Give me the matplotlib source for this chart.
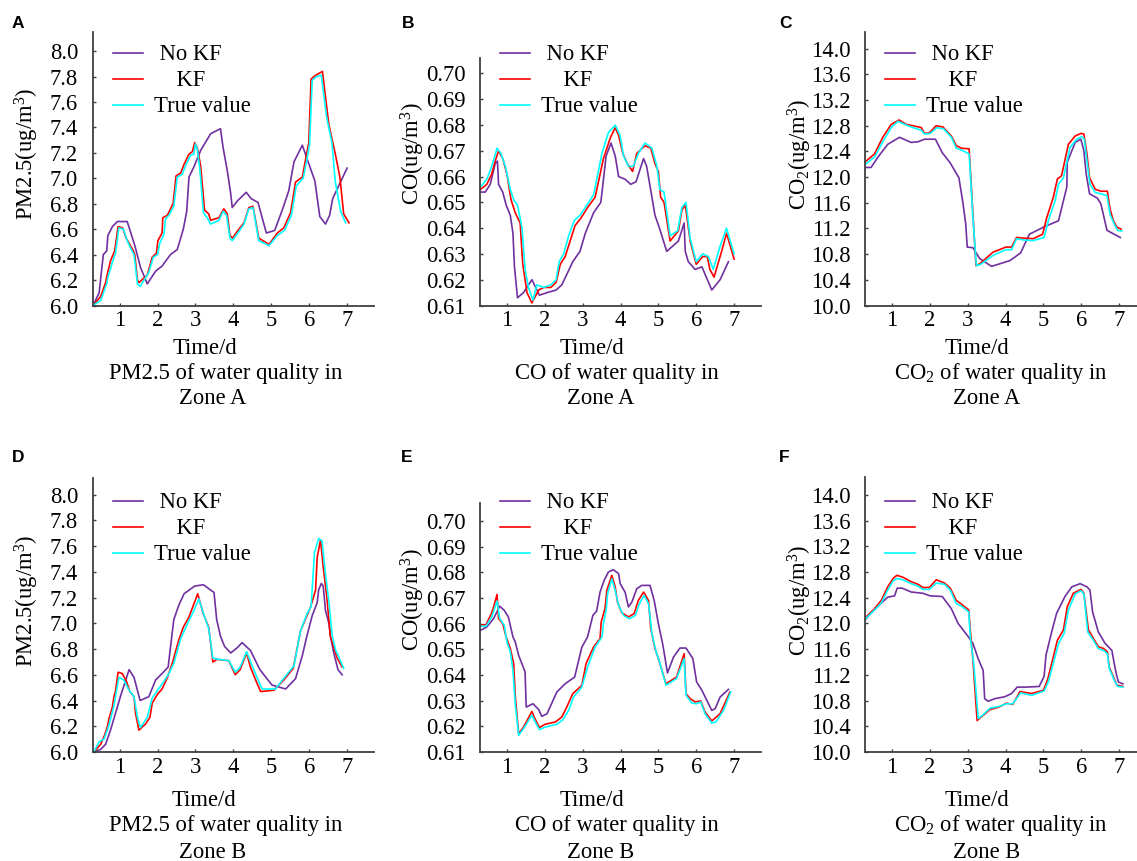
import matplotlib
matplotlib.use('Agg')
import matplotlib.pyplot as plt

W, H = 1137, 861
plt.rcParams['font.family'] = ['Liberation Serif', 'DejaVu Serif']
plt.rcParams['mathtext.fontset'] = 'custom'
plt.rcParams['mathtext.rm'] = 'Liberation Serif'
plt.rcParams['mathtext.it'] = 'Liberation Serif:italic'

# ---------------- data ----------------
series_labels = [" No KF", "    KF", "True value"]
x_ticks = [1, 2, 3, 4, 5, 6, 7]

# Panel A: PM2.5 Zone A
a_nokf_x = [0.30, 0.46, 0.57, 0.66, 0.69, 0.81, 0.94, 1.20, 1.36, 1.42, 1.55, 1.73, 1.95, 2.12, 2.34, 2.52, 2.68, 2.77, 2.83, 2.96, 3.14, 3.40, 3.66, 3.73, 3.84, 3.93, 3.97, 4.10, 4.34, 4.47, 4.65, 4.87, 5.09, 5.29, 5.46, 5.60, 5.82, 5.96, 6.15, 6.28, 6.43, 6.54, 6.62, 7.00]
a_nokf_y = [6.00, 6.10, 6.40, 6.43, 6.55, 6.62, 6.66, 6.66, 6.51, 6.45, 6.30, 6.17, 6.27, 6.31, 6.40, 6.44, 6.60, 6.74, 7.01, 7.09, 7.22, 7.35, 7.39, 7.24, 7.06, 6.88, 6.77, 6.82, 6.89, 6.84, 6.81, 6.57, 6.59, 6.75, 6.90, 7.13, 7.26, 7.14, 6.98, 6.70, 6.64, 6.71, 6.84, 7.08]
a_kf_x = [0.30, 0.50, 0.63, 0.67, 0.76, 0.87, 0.96, 1.08, 1.17, 1.25, 1.36, 1.40, 1.47, 1.51, 1.73, 1.86, 1.97, 2.01, 2.12, 2.14, 2.26, 2.41, 2.49, 2.61, 2.70, 2.83, 2.92, 2.98, 3.05, 3.14, 3.24, 3.35, 3.40, 3.62, 3.75, 3.84, 3.91, 3.98, 4.12, 4.28, 4.41, 4.52, 4.67, 4.94, 5.16, 5.33, 5.51, 5.64, 5.82, 5.90, 5.99, 6.05, 6.17, 6.35, 6.52, 6.69, 6.81, 6.91, 7.05]
a_kf_y = [6.00, 6.07, 6.18, 6.24, 6.35, 6.43, 6.62, 6.61, 6.53, 6.49, 6.43, 6.40, 6.20, 6.18, 6.24, 6.38, 6.41, 6.51, 6.57, 6.69, 6.71, 6.80, 7.02, 7.04, 7.11, 7.19, 7.21, 7.28, 7.24, 7.09, 6.75, 6.72, 6.67, 6.69, 6.76, 6.72, 6.55, 6.53, 6.59, 6.65, 6.77, 6.78, 6.53, 6.48, 6.57, 6.61, 6.73, 6.97, 7.01, 7.14, 7.28, 7.78, 7.81, 7.84, 7.42, 7.19, 7.01, 6.72, 6.65]
a_true_x = [0.30, 0.50, 0.66, 0.69, 0.81, 0.89, 0.98, 1.10, 1.20, 1.29, 1.38, 1.47, 1.54, 1.77, 1.89, 2.00, 2.06, 2.17, 2.21, 2.30, 2.43, 2.52, 2.65, 2.74, 2.87, 2.96, 3.00, 3.05, 3.12, 3.21, 3.31, 3.40, 3.62, 3.73, 3.82, 3.91, 3.97, 4.12, 4.28, 4.41, 4.52, 4.67, 4.94, 5.16, 5.35, 5.53, 5.66, 5.84, 5.93, 6.01, 6.08, 6.19, 6.32, 6.46, 6.60, 6.69, 6.83, 6.96]
a_true_y = [6.00, 6.04, 6.17, 6.22, 6.34, 6.41, 6.61, 6.60, 6.51, 6.45, 6.40, 6.17, 6.15, 6.26, 6.38, 6.40, 6.49, 6.56, 6.68, 6.71, 6.78, 7.01, 7.03, 7.10, 7.18, 7.19, 7.27, 7.23, 7.06, 6.73, 6.69, 6.64, 6.67, 6.74, 6.71, 6.53, 6.51, 6.57, 6.64, 6.76, 6.77, 6.51, 6.47, 6.55, 6.59, 6.71, 6.94, 7.00, 7.13, 7.27, 7.77, 7.80, 7.81, 7.48, 7.28, 6.97, 6.74, 6.65]

# Panel B: CO Zone A
b_nokf_x = [0.30, 0.43, 0.56, 0.69, 0.75, 0.78, 0.89, 0.98, 1.09, 1.16, 1.20, 1.28, 1.44, 1.66, 1.86, 2.06, 2.30, 2.45, 2.58, 2.74, 2.93, 3.07, 3.29, 3.48, 3.52, 3.62, 3.75, 3.86, 3.95, 4.12, 4.27, 4.41, 4.61, 4.69, 4.83, 4.91, 5.03, 5.22, 5.53, 5.68, 5.71, 5.79, 5.97, 6.15, 6.41, 6.63, 6.85]
b_nokf_y = [0.654, 0.654, 0.657, 0.665, 0.666, 0.657, 0.654, 0.649, 0.645, 0.638, 0.625, 0.613, 0.615, 0.620, 0.614, 0.615, 0.616, 0.618, 0.622, 0.627, 0.631, 0.638, 0.646, 0.650, 0.655, 0.668, 0.673, 0.668, 0.660, 0.659, 0.657, 0.658, 0.667, 0.664, 0.652, 0.645, 0.640, 0.631, 0.635, 0.642, 0.631, 0.627, 0.624, 0.625, 0.616, 0.620, 0.627]
b_kf_x = [0.30, 0.47, 0.60, 0.69, 0.78, 0.89, 1.00, 1.11, 1.22, 1.35, 1.42, 1.53, 1.66, 1.84, 1.97, 2.16, 2.30, 2.41, 2.54, 2.67, 2.80, 2.96, 3.13, 3.33, 3.55, 3.73, 3.86, 3.95, 4.06, 4.18, 4.32, 4.43, 4.65, 4.80, 4.91, 5.00, 5.06, 5.15, 5.31, 5.53, 5.62, 5.71, 5.84, 6.00, 6.17, 6.29, 6.36, 6.47, 6.67, 6.80, 7.00]
b_kf_y = [0.655, 0.657, 0.661, 0.666, 0.670, 0.667, 0.661, 0.651, 0.646, 0.642, 0.626, 0.615, 0.611, 0.616, 0.617, 0.617, 0.619, 0.626, 0.629, 0.635, 0.641, 0.644, 0.648, 0.652, 0.667, 0.675, 0.679, 0.676, 0.669, 0.665, 0.662, 0.669, 0.672, 0.671, 0.665, 0.662, 0.652, 0.650, 0.635, 0.639, 0.647, 0.649, 0.635, 0.626, 0.629, 0.629, 0.624, 0.621, 0.631, 0.638, 0.628]
b_true_x = [0.30, 0.47, 0.60, 0.74, 0.84, 0.96, 1.09, 1.18, 1.28, 1.40, 1.48, 1.57, 1.69, 1.79, 1.97, 2.16, 2.30, 2.38, 2.50, 2.63, 2.78, 2.93, 3.07, 3.29, 3.51, 3.68, 3.86, 3.99, 4.08, 4.21, 4.34, 4.47, 4.65, 4.83, 4.96, 5.04, 5.15, 5.31, 5.51, 5.62, 5.73, 5.84, 6.00, 6.17, 6.32, 6.45, 6.63, 6.80, 7.00]
b_true_y = [0.656, 0.659, 0.664, 0.671, 0.669, 0.664, 0.655, 0.651, 0.649, 0.640, 0.624, 0.617, 0.612, 0.618, 0.617, 0.618, 0.620, 0.627, 0.630, 0.637, 0.643, 0.645, 0.648, 0.653, 0.669, 0.677, 0.680, 0.676, 0.668, 0.664, 0.664, 0.669, 0.673, 0.671, 0.664, 0.655, 0.654, 0.637, 0.639, 0.648, 0.650, 0.636, 0.627, 0.630, 0.629, 0.624, 0.633, 0.640, 0.630]

# Panel C: CO2 Zone A
c_nokf_x = [0.28, 0.45, 0.63, 0.89, 1.20, 1.51, 1.69, 1.86, 2.15, 2.33, 2.53, 2.77, 2.88, 2.95, 2.99, 3.14, 3.32, 3.63, 3.85, 4.12, 4.40, 4.63, 5.04, 5.40, 5.62, 5.63, 5.84, 5.99, 6.07, 6.13, 6.22, 6.43, 6.52, 6.68, 7.03]
c_nokf_y = [12.15, 12.15, 12.31, 12.51, 12.62, 12.54, 12.55, 12.59, 12.59, 12.38, 12.23, 11.99, 11.58, 11.27, 10.91, 10.90, 10.73, 10.61, 10.65, 10.70, 10.82, 11.11, 11.23, 11.32, 11.85, 12.23, 12.54, 12.59, 12.41, 12.05, 11.74, 11.67, 11.58, 11.17, 11.06]
c_kf_x = [0.28, 0.54, 0.76, 0.98, 1.19, 1.38, 1.56, 1.78, 1.86, 1.99, 2.17, 2.35, 2.57, 2.70, 2.84, 3.04, 3.14, 3.22, 3.32, 3.67, 4.01, 4.16, 4.29, 4.47, 4.73, 4.98, 5.09, 5.26, 5.37, 5.48, 5.66, 5.84, 5.99, 6.07, 6.15, 6.22, 6.37, 6.52, 6.69, 6.76, 6.85, 6.94, 7.05]
c_kf_y = [12.23, 12.36, 12.62, 12.82, 12.89, 12.82, 12.80, 12.77, 12.68, 12.69, 12.80, 12.78, 12.64, 12.49, 12.45, 12.44, 11.42, 10.62, 10.65, 10.83, 10.91, 10.91, 11.06, 11.05, 11.04, 11.11, 11.37, 11.68, 11.97, 12.02, 12.51, 12.64, 12.68, 12.67, 12.36, 11.99, 11.81, 11.78, 11.78, 11.50, 11.32, 11.22, 11.19]
c_true_x = [0.28, 0.54, 0.76, 0.98, 1.16, 1.38, 1.56, 1.78, 1.86, 2.01, 2.19, 2.37, 2.57, 2.70, 2.84, 3.04, 3.14, 3.23, 3.34, 3.67, 4.01, 4.16, 4.29, 4.49, 4.73, 5.02, 5.13, 5.31, 5.40, 5.53, 5.70, 5.88, 6.01, 6.08, 6.15, 6.23, 6.37, 6.52, 6.68, 6.76, 6.87, 6.96, 7.07]
c_true_y = [12.19, 12.31, 12.55, 12.77, 12.87, 12.81, 12.77, 12.73, 12.67, 12.68, 12.77, 12.75, 12.62, 12.45, 12.42, 12.36, 11.37, 10.62, 10.64, 10.78, 10.87, 10.87, 11.04, 11.02, 11.01, 11.06, 11.32, 11.63, 11.89, 11.99, 12.46, 12.59, 12.63, 12.59, 12.25, 11.89, 11.76, 11.74, 11.71, 11.42, 11.27, 11.17, 11.16]

# Panel D: PM2.5 Zone B
d_nokf_x = [0.32, 0.50, 0.63, 0.76, 0.89, 1.03, 1.13, 1.25, 1.38, 1.54, 1.77, 1.95, 2.12, 2.28, 2.36, 2.43, 2.56, 2.70, 2.98, 3.21, 3.49, 3.56, 3.66, 3.77, 3.93, 4.10, 4.23, 4.45, 4.70, 5.02, 5.38, 5.64, 5.82, 5.93, 6.08, 6.21, 6.25, 6.32, 6.37, 6.43, 6.52, 6.56, 6.65, 6.76, 6.87]
d_nokf_y = [6.00, 6.02, 6.06, 6.17, 6.30, 6.44, 6.53, 6.64, 6.58, 6.40, 6.43, 6.56, 6.61, 6.66, 6.86, 7.03, 7.14, 7.23, 7.29, 7.30, 7.24, 7.03, 6.90, 6.82, 6.77, 6.81, 6.85, 6.79, 6.64, 6.52, 6.49, 6.57, 6.75, 6.89, 7.06, 7.16, 7.26, 7.31, 7.29, 7.10, 7.00, 6.90, 6.77, 6.64, 6.60]
d_kf_x = [0.32, 0.50, 0.59, 0.67, 0.72, 0.81, 0.85, 0.89, 0.96, 1.07, 1.18, 1.27, 1.38, 1.42, 1.51, 1.69, 1.80, 1.86, 2.00, 2.12, 2.26, 2.39, 2.56, 2.68, 2.83, 3.06, 3.20, 3.35, 3.46, 3.57, 3.88, 4.05, 4.18, 4.35, 4.45, 4.63, 4.72, 5.07, 5.33, 5.58, 5.77, 6.04, 6.17, 6.21, 6.30, 6.37, 6.46, 6.56, 6.65, 6.74, 6.87]
d_kf_y = [6.00, 6.06, 6.12, 6.19, 6.26, 6.35, 6.43, 6.47, 6.62, 6.61, 6.55, 6.47, 6.43, 6.30, 6.17, 6.22, 6.27, 6.38, 6.45, 6.49, 6.58, 6.69, 6.87, 6.97, 7.05, 7.23, 7.08, 6.97, 6.70, 6.72, 6.71, 6.60, 6.64, 6.77, 6.66, 6.53, 6.47, 6.48, 6.56, 6.65, 6.94, 7.13, 7.26, 7.51, 7.65, 7.44, 7.22, 6.90, 6.81, 6.73, 6.66]
d_true_x = [0.32, 0.46, 0.59, 0.72, 0.85, 0.98, 1.11, 1.25, 1.38, 1.47, 1.55, 1.73, 1.86, 2.00, 2.17, 2.30, 2.43, 2.61, 2.78, 2.96, 3.09, 3.24, 3.35, 3.46, 3.61, 3.88, 4.05, 4.18, 4.35, 4.47, 4.65, 4.76, 5.11, 5.35, 5.60, 5.77, 5.95, 6.05, 6.14, 6.25, 6.34, 6.43, 6.52, 6.61, 6.70, 6.78, 6.91]
d_true_y = [6.00, 6.08, 6.10, 6.21, 6.36, 6.58, 6.56, 6.48, 6.43, 6.27, 6.19, 6.27, 6.42, 6.48, 6.55, 6.61, 6.69, 6.88, 6.99, 7.10, 7.19, 7.05, 6.96, 6.73, 6.72, 6.71, 6.62, 6.66, 6.78, 6.69, 6.56, 6.49, 6.49, 6.58, 6.67, 6.94, 7.08, 7.13, 7.55, 7.66, 7.64, 7.38, 7.17, 6.90, 6.79, 6.74, 6.65]

# Panel E: CO Zone B
e_nokf_x = [0.30, 0.47, 0.65, 0.81, 0.93, 1.04, 1.16, 1.22, 1.31, 1.48, 1.51, 1.69, 1.84, 1.92, 2.06, 2.32, 2.54, 2.79, 2.98, 3.13, 3.27, 3.37, 3.46, 3.57, 3.68, 3.81, 3.95, 3.99, 4.12, 4.21, 4.30, 4.43, 4.56, 4.78, 4.89, 5.00, 5.12, 5.24, 5.40, 5.57, 5.73, 5.91, 6.01, 6.15, 6.41, 6.50, 6.63, 6.85]
e_nokf_y = [0.6574, 0.6587, 0.6620, 0.6668, 0.6652, 0.6626, 0.6548, 0.6529, 0.6477, 0.6412, 0.6275, 0.6288, 0.6265, 0.6239, 0.6249, 0.6334, 0.6366, 0.6392, 0.6509, 0.6548, 0.6632, 0.6649, 0.6723, 0.6769, 0.6801, 0.6810, 0.6795, 0.6756, 0.6723, 0.6665, 0.6684, 0.6736, 0.6749, 0.6749, 0.6690, 0.6600, 0.6516, 0.6408, 0.6470, 0.6505, 0.6505, 0.6464, 0.6373, 0.6340, 0.6262, 0.6269, 0.6314, 0.6344]
e_kf_x = [0.30, 0.45, 0.59, 0.65, 0.74, 0.78, 0.89, 0.98, 1.09, 1.18, 1.22, 1.31, 1.44, 1.66, 1.72, 1.86, 2.01, 2.28, 2.45, 2.58, 2.74, 2.98, 3.09, 3.29, 3.46, 3.49, 3.59, 3.64, 3.77, 3.86, 3.92, 4.03, 4.21, 4.36, 4.47, 4.61, 4.74, 4.80, 4.91, 5.00, 5.20, 5.48, 5.68, 5.73, 5.84, 5.97, 6.12, 6.23, 6.41, 6.63, 6.89]
e_kf_y = [0.6594, 0.6596, 0.6639, 0.6665, 0.6714, 0.6620, 0.6600, 0.6548, 0.6503, 0.6444, 0.6321, 0.6171, 0.6197, 0.6258, 0.6236, 0.6195, 0.6208, 0.6217, 0.6236, 0.6275, 0.6327, 0.6360, 0.6444, 0.6509, 0.6542, 0.6606, 0.6658, 0.6730, 0.6788, 0.6743, 0.6684, 0.6643, 0.6626, 0.6639, 0.6690, 0.6723, 0.6690, 0.6580, 0.6503, 0.6464, 0.6366, 0.6392, 0.6483, 0.6327, 0.6308, 0.6295, 0.6299, 0.6256, 0.6221, 0.6249, 0.6334]
e_true_x = [0.30, 0.45, 0.60, 0.74, 0.81, 0.93, 1.00, 1.09, 1.16, 1.22, 1.31, 1.44, 1.66, 1.75, 1.86, 2.01, 2.32, 2.48, 2.63, 2.76, 2.98, 3.13, 3.33, 3.51, 3.55, 3.62, 3.66, 3.77, 3.86, 3.95, 4.08, 4.24, 4.39, 4.50, 4.62, 4.74, 4.83, 4.94, 5.03, 5.20, 5.48, 5.68, 5.73, 5.88, 6.00, 6.12, 6.23, 6.41, 6.52, 6.72, 6.91]
e_true_y = [0.6590, 0.6590, 0.6626, 0.6688, 0.6620, 0.6594, 0.6529, 0.6490, 0.6418, 0.6288, 0.6165, 0.6191, 0.6243, 0.6217, 0.6187, 0.6197, 0.6208, 0.6226, 0.6262, 0.6314, 0.6353, 0.6431, 0.6509, 0.6548, 0.6600, 0.6652, 0.6717, 0.6775, 0.6730, 0.6671, 0.6632, 0.6619, 0.6632, 0.6678, 0.6710, 0.6678, 0.6561, 0.6490, 0.6451, 0.6360, 0.6386, 0.6464, 0.6321, 0.6291, 0.6288, 0.6295, 0.6249, 0.6213, 0.6217, 0.6262, 0.6334]

# Panel F: CO2 Zone B
f_nokf_x = [0.28, 0.45, 0.67, 0.89, 1.07, 1.14, 1.27, 1.51, 1.82, 2.01, 2.33, 2.57, 2.75, 3.01, 3.14, 3.28, 3.41, 3.45, 3.54, 3.72, 3.98, 4.16, 4.31, 4.56, 4.89, 5.02, 5.07, 5.22, 5.35, 5.57, 5.75, 5.97, 6.15, 6.23, 6.30, 6.45, 6.63, 6.81, 6.87, 6.92, 6.98, 7.10]
f_nokf_y = [12.05, 12.16, 12.29, 12.41, 12.43, 12.55, 12.55, 12.49, 12.47, 12.43, 12.42, 12.23, 12.00, 11.80, 11.69, 11.45, 11.27, 10.83, 10.79, 10.83, 10.86, 10.91, 11.01, 11.01, 11.02, 11.18, 11.51, 11.87, 12.16, 12.42, 12.57, 12.62, 12.57, 12.52, 12.18, 11.87, 11.69, 11.58, 11.38, 11.23, 11.09, 11.06]
f_kf_x = [0.28, 0.54, 0.72, 0.89, 1.03, 1.13, 1.29, 1.51, 1.69, 1.82, 1.99, 2.17, 2.39, 2.54, 2.70, 2.84, 3.03, 3.07, 3.14, 3.25, 3.37, 3.59, 3.83, 4.03, 4.19, 4.38, 4.69, 5.00, 5.11, 5.22, 5.37, 5.53, 5.63, 5.79, 5.99, 6.07, 6.19, 6.32, 6.45, 6.59, 6.69, 6.74, 6.87, 6.94, 7.10]
f_kf_y = [12.08, 12.23, 12.36, 12.57, 12.70, 12.75, 12.72, 12.65, 12.61, 12.56, 12.56, 12.68, 12.63, 12.55, 12.36, 12.30, 12.21, 11.90, 11.43, 10.49, 10.55, 10.66, 10.70, 10.76, 10.74, 10.94, 10.91, 10.96, 11.12, 11.38, 11.74, 11.90, 12.26, 12.47, 12.53, 12.47, 11.90, 11.77, 11.64, 11.61, 11.56, 11.32, 11.14, 11.04, 11.02]
f_true_x = [0.28, 0.54, 0.72, 0.89, 1.03, 1.13, 1.29, 1.51, 1.69, 1.82, 1.99, 2.17, 2.39, 2.54, 2.70, 2.84, 3.03, 3.07, 3.16, 3.28, 3.39, 3.59, 3.83, 4.03, 4.19, 4.40, 4.69, 5.02, 5.13, 5.25, 5.40, 5.55, 5.66, 5.84, 5.99, 6.07, 6.17, 6.32, 6.45, 6.59, 6.69, 6.74, 6.87, 6.96, 7.10]
f_true_y = [12.06, 12.21, 12.32, 12.52, 12.66, 12.70, 12.68, 12.62, 12.58, 12.53, 12.53, 12.63, 12.61, 12.52, 12.31, 12.27, 12.18, 11.79, 11.38, 10.52, 10.57, 10.68, 10.71, 10.75, 10.75, 10.92, 10.88, 10.95, 11.09, 11.35, 11.69, 11.85, 12.21, 12.46, 12.51, 12.46, 11.87, 11.74, 11.61, 11.58, 11.53, 11.30, 11.12, 11.02, 11.01]

pm_ticks = [6.0, 6.2, 6.4, 6.6, 6.8, 7.0, 7.2, 7.4, 7.6, 7.8, 8.0]
co_ticks = [0.61, 0.62, 0.63, 0.64, 0.65, 0.66, 0.67, 0.68, 0.69, 0.70]
co2_ticks = [10.0, 10.4, 10.8, 11.2, 11.6, 12.0, 12.4, 12.8, 13.2, 13.6, 14.0]

# ---------------- styling ----------------
COL_NOKF = '#7030A0'
COL_KF = '#FF0000'
COL_TRUE = '#00FFFF'
SPINE = '#404040'
FS = 16.3

fig = plt.figure(figsize=(W / 100, H / 100), dpi=100)


def fx(px):
    return px / W


def fy(py):
    return 1 - py / H


panels = [
    dict(letter='A', rect=(92.7, 32, 374, 305.5), ylim=(6.0, 8.15), ticks=pm_ticks, fmt='%.1f',
         ylabel='PM2.5(ug/m$^{\\mathrm{3}}$)', ylab=(27, 154),
         data=(a_nokf_x, a_nokf_y, a_kf_x, a_kf_y, a_true_x, a_true_y),
         leg=(113, 44.5), letpos=(18, 24), tx=(205, 348), t1=(226, 373, 'PM2.5 of water quality in'),
         t2=(213, 398, 'Zone A')),
    dict(letter='B', rect=(480, 58, 761, 305.5), ylim=(0.61, 0.706), ticks=co_ticks, fmt='%.2f',
         ylabel='CO(ug/m$^{\\mathrm{3}}$)', ylab=(413, 154),
         data=(b_nokf_x, b_nokf_y, b_kf_x, b_kf_y, b_true_x, b_true_y),
         leg=(500, 44.5), letpos=(408, 24), tx=(592, 348), t1=(617, 373, 'CO of water quality in'),
         t2=(601, 398, 'Zone A')),
    dict(letter='C', rect=(865, 32, 1146, 305.5), ylim=(10.0, 14.26), ticks=co2_ticks, fmt='%.1f',
         ylabel='CO$_{\\mathrm{2}}$(ug/m$^{\\mathrm{3}}$)', ylab=(800, 154),
         data=(c_nokf_x, c_nokf_y, c_kf_x, c_kf_y, c_true_x, c_true_y),
         leg=(885, 44.5), letpos=(785, 24), tx=(977, 348), t1=(1001, 373, 'CO$_{\\mathrm{2}}$ of water quality in'),
         t2=(987, 398, 'Zone A')),
    dict(letter='D', rect=(92.7, 478, 374, 752), ylim=(6.0, 8.13), ticks=pm_ticks, fmt='%.1f',
         ylabel='PM2.5(ug/m$^{\\mathrm{3}}$)', ylab=(27, 601),
         data=(d_nokf_x, d_nokf_y, d_kf_x, d_kf_y, d_true_x, d_true_y),
         leg=(113, 492.5), letpos=(18, 458), tx=(204, 800), t1=(226, 825, 'PM2.5 of water quality in'),
         t2=(213, 852, 'Zone B')),
    dict(letter='E', rect=(480, 503, 761, 752), ylim=(0.61, 0.707), ticks=co_ticks, fmt='%.2f',
         ylabel='CO(ug/m$^{\\mathrm{3}}$)', ylab=(413, 600),
         data=(e_nokf_x, e_nokf_y, e_kf_x, e_kf_y, e_true_x, e_true_y),
         leg=(500, 492.5), letpos=(407, 458), tx=(592, 800), t1=(617, 825, 'CO of water quality in'),
         t2=(601, 852, 'Zone B')),
    dict(letter='F', rect=(865, 477, 1146, 752), ylim=(10.0, 14.28), ticks=co2_ticks, fmt='%.1f',
         ylabel='CO$_{\\mathrm{2}}$(ug/m$^{\\mathrm{3}}$)', ylab=(800, 600),
         data=(f_nokf_x, f_nokf_y, f_kf_x, f_kf_y, f_true_x, f_true_y),
         leg=(885, 492.5), letpos=(784, 458), tx=(977, 800), t1=(1001, 825, 'CO$_{\\mathrm{2}}$ of water quality in'),
         t2=(987, 852, 'Zone B')),
]

for p in panels:
    l, t, r, b = p['rect']
    ax = fig.add_axes([fx(l), fy(b), (r - l) / W, (b - t) / H])
    nx, ny, kx, ky, tx_, ty_ = p['data']
    h1, = ax.plot(nx, ny, color=COL_NOKF, lw=1.2)
    h2, = ax.plot(kx, ky, color=COL_KF, lw=1.2)
    h3, = ax.plot(tx_, ty_, color=COL_TRUE, lw=1.2)
    ax.set_xlim(0.29, 7.71)
    ax.set_ylim(*p['ylim'])
    ax.set_xticks(x_ticks)
    ax.set_yticks(p['ticks'])
    ax.set_yticklabels([p['fmt'] % v for v in p['ticks']])
    for s in ['top', 'right']:
        ax.spines[s].set_visible(False)
    for s in ['left', 'bottom']:
        ax.spines[s].set_color(SPINE)
        ax.spines[s].set_linewidth(1.3)
    ax.tick_params(axis='x', direction='in', length=2.5, width=1, color=SPINE, pad=3.5,
                   labelsize=FS, labelcolor='black')
    ax.tick_params(axis='y', direction='in', length=2.5, width=1, color=SPINE, pad=10.5,
                   labelsize=FS, labelcolor='black')
    ax.patch.set_alpha(0)
    # y label
    fig.text(fx(p['ylab'][0]), fy(p['ylab'][1]), p['ylabel'], rotation=90,
             ha='center', va='center', fontsize=FS)
    # legend
    fig.legend([h1, h2, h3], series_labels, loc='upper left',
               bbox_to_anchor=(fx(p['leg'][0]), fy(p['leg'][1])), bbox_transform=fig.transFigure,
               frameon=False, fontsize=FS, borderpad=0, borderaxespad=0, handlelength=1.33,
               handletextpad=0.5, labelspacing=0.22)
    # panel letter
    fig.text(fx(p['letpos'][0]), fy(p['letpos'][1]), p['letter'], ha='center', va='center',
             fontsize=12.5, fontweight='bold', family=['Liberation Sans', 'DejaVu Sans'])
    # x label and subtitle
    fig.text(fx(p['tx'][0]), fy(p['tx'][1]), 'Time/d', ha='center', va='center', fontsize=FS)
    fig.text(fx(p['t1'][0]), fy(p['t1'][1]), p['t1'][2], ha='center', va='center', fontsize=FS)
    fig.text(fx(p['t2'][0]), fy(p['t2'][1]), p['t2'][2], ha='center', va='center', fontsize=FS)

fig.savefig('out.png', dpi=100)
